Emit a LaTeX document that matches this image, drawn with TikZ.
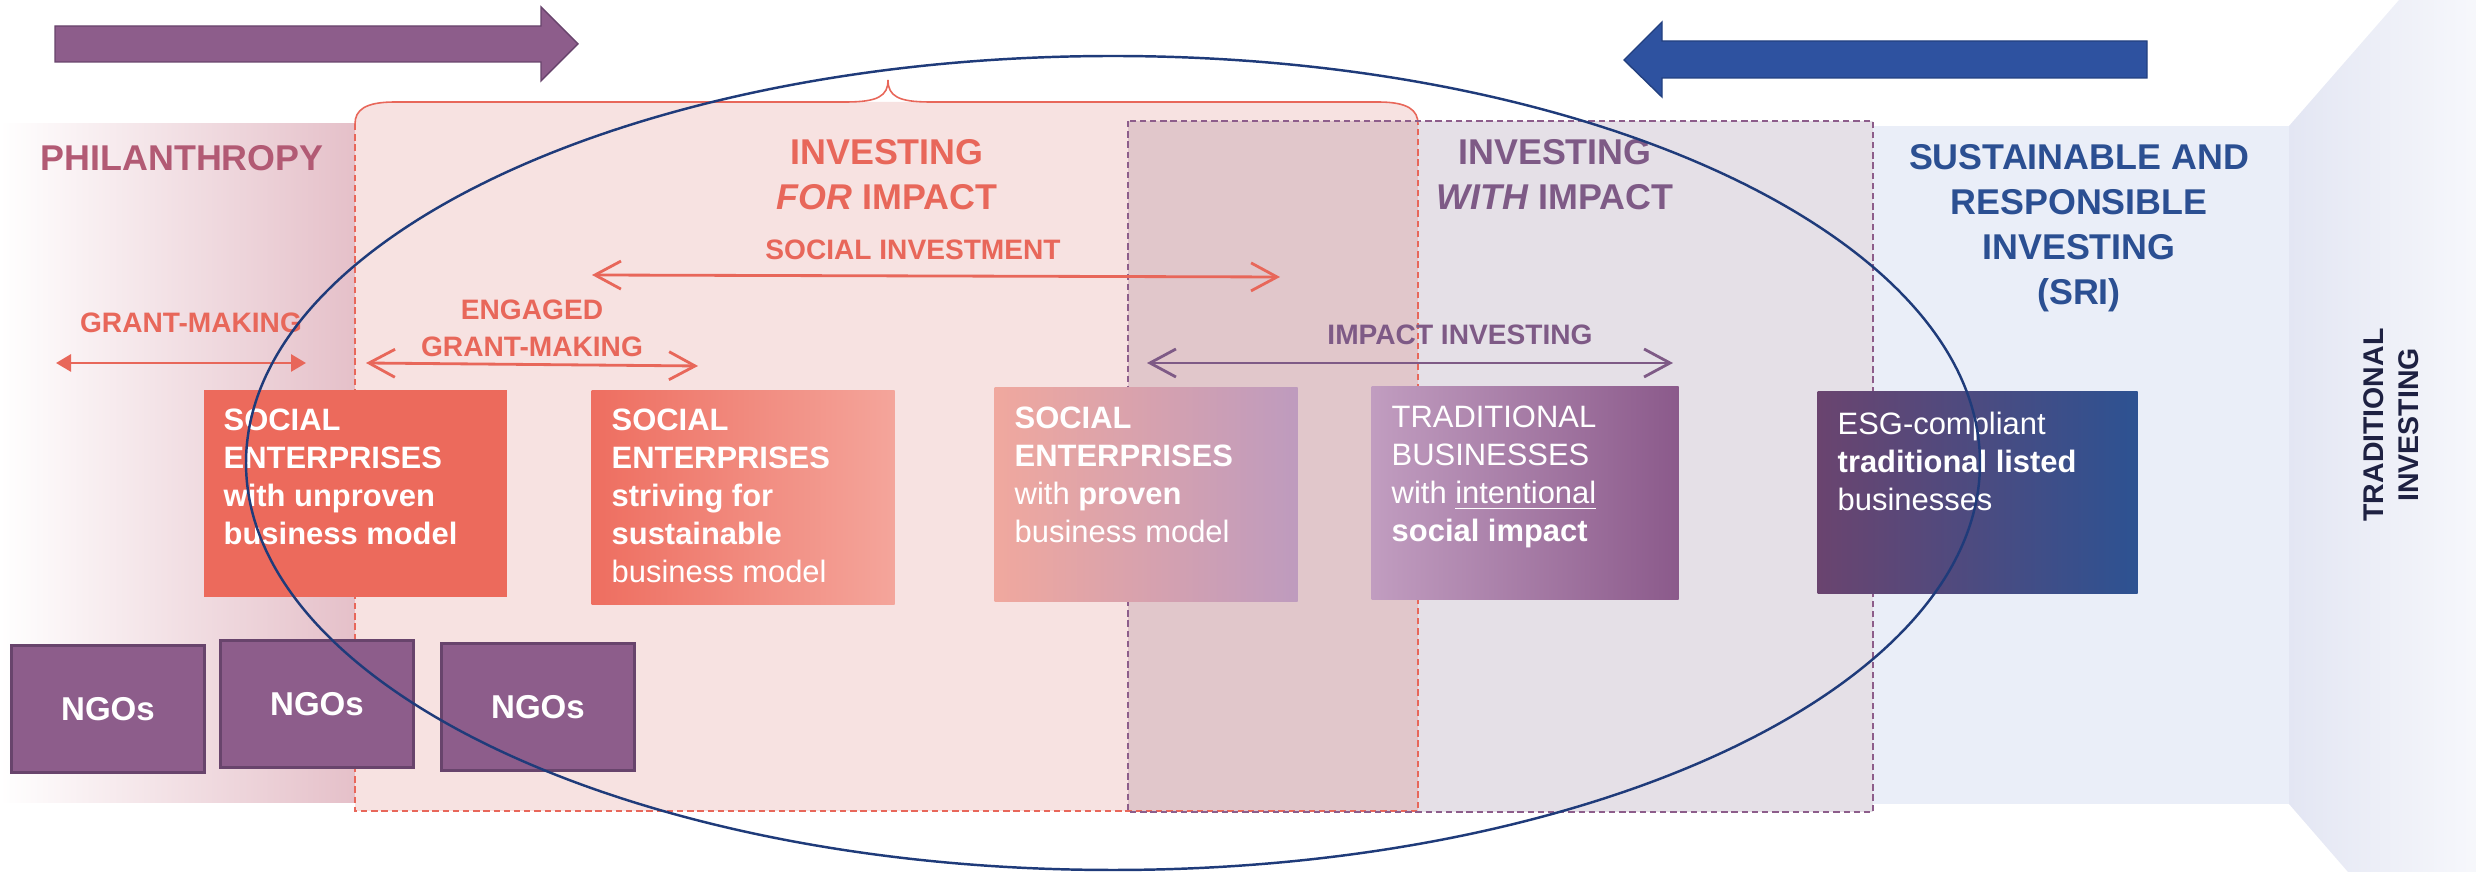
\documentclass[tikz,border=0pt]{standalone}
\usepackage{fontspec}
\setmainfont{Liberation Sans}
\usetikzlibrary{arrows.meta}
\definecolor{coral}{HTML}{EC6A5C}
\definecolor{coraltxt}{HTML}{E8675A}
\definecolor{rose}{HTML}{B25A74}
\definecolor{plum}{HTML}{8D5D8B}
\definecolor{plumdark}{HTML}{68446C}
\definecolor{plumtxt}{HTML}{7E5A86}
\definecolor{srinavy}{HTML}{2B4F92}
\definecolor{arrblue}{HTML}{2E52A0}
\definecolor{arrbluedark}{HTML}{23407F}
\definecolor{ringblue}{HTML}{1F3B7A}
\definecolor{philband}{HTML}{E5C0C9}
\definecolor{forfill}{HTML}{F7E2E1}
\definecolor{withfill}{HTML}{E5E0E7}
\definecolor{bothfill}{HTML}{E1C7CB}
\definecolor{srifill}{HTML}{EAEEF8}
\definecolor{tradfill}{HTML}{E3E6F3}
\definecolor{tradtxt}{HTML}{1E2142}
\definecolor{seA}{HTML}{EE6E60}
\definecolor{seB}{HTML}{F4A59B}
\definecolor{seC}{HTML}{F0A89E}
\definecolor{seD}{HTML}{BE9BBE}
\definecolor{tbA}{HTML}{C19DC0}
\definecolor{tbB}{HTML}{8B5A8B}
\definecolor{esgA}{HTML}{6A446F}
\definecolor{esgB}{HTML}{2D5292}
\begin{document}
\begin{tikzpicture}[x=0.1mm,y=-0.1mm,
    head/.style={font=\fontsize{10.2}{12.8}\selectfont\bfseries,align=center,inner sep=0},
    lbl/.style={font=\fontsize{8}{10.5}\selectfont\bfseries,align=center,inner sep=0},
    boxtxt/.style={font=\fontsize{8.8}{10.8}\selectfont,text=white,align=left,anchor=north west,inner sep=0},
    sebox/.style={rectangle,draw=none,anchor=north west,inner sep=0},
    ngo/.style={rectangle,fill=plum,draw=plumdark,line width=0.8pt,text=white,
      font=\fontsize{9.4}{11}\selectfont\bfseries,minimum width=19.3mm,minimum height=12.7mm},
    rangebarb/.style={line width=0.8pt,{Straight Barb[length=2.6mm,width=2.8mm]}-{Straight Barb[length=2.6mm,width=2.8mm]}},
    rangefill/.style={line width=0.8pt,{Triangle[length=1.5mm,width=1.7mm]}-{Triangle[length=1.5mm,width=1.7mm]}},
    reddash/.style={draw=coraltxt,line width=0.5pt,dash pattern=on 1.8pt off 1.1pt},
    purpledash/.style={draw=plum,line width=0.5pt,dash pattern=on 1.8pt off 1.1pt}]
  \useasboundingbox (0,0) rectangle (2476,872);

  % background bands
  \shade[left color=tradfill,right color=white!70!tradfill]
    (2289,126) -- (2399,0) -- (2476,0) -- (2476,872) -- (2348,872) -- (2289,804) -- cycle;
  \fill[srifill] (1873,126) rectangle (2289,804);
  \shade[left color=white,right color=philband] (0,124) rectangle (355,803);
  \fill[withfill] (1128,121) rectangle (1873,812);
  \fill[forfill] (355,124) .. controls (355,110) and (365,102) .. (395,102) -- (1378,102)
    .. controls (1408,102) and (1418,110) .. (1418,124) -- (1418,811) -- (355,811) -- cycle;
  \fill[bothfill] (1128,121) rectangle (1418,811);

  % region borders
  \draw[coraltxt,line width=0.45pt] (355,124) .. controls (355,110) and (365,102) .. (395,102)
    -- (846,102) .. controls (878,102) and (888,96) .. (888,80)
    .. controls (888,96) and (898,102) .. (930,102) -- (1378,102)
    .. controls (1408,102) and (1418,110) .. (1418,124);
  \draw[reddash] (355,124) -- (355,811) -- (1418,811) -- (1418,124);
  \draw[purpledash] (1128,121) rectangle (1873,812);

  % headings
  \node[head,text=rose,anchor=west] (phil) at (40,158) {PHILANTHROPY};
  \node[head,text=coraltxt] (ifor) at (887,175) {INVESTING\\\textit{FOR} IMPACT};
  \node[head,text=plumtxt] (iwith) at (1555,175) {INVESTING\\\textit{WITH} IMPACT};
  \node[head,text=srinavy] (sri) at (2079,228) {SUSTAINABLE AND\\RESPONSIBLE\\INVESTING\\(SRI)};
  \node[font=\fontsize{8.1}{10}\selectfont\bfseries,text=tradtxt,align=center,rotate=90,inner sep=0]
    (trad) at (2391,425) {TRADITIONAL\\INVESTING};

  % ranges
  \node[lbl,text=coraltxt] (gmlbl) at (191,323) {GRANT-MAKING};
  \node[lbl,text=coraltxt] (eglbl) at (532,328) {ENGAGED\\GRANT-MAKING};
  \node[lbl,text=coraltxt] (silbl) at (913,250) {SOCIAL INVESTMENT};
  \node[lbl,text=plumtxt] (iilbl) at (1460,335) {IMPACT INVESTING};
  \coordinate (gm-a) at (56,363);
  \coordinate (gm-b) at (306,363);
  \coordinate (eg-a) at (366,363);
  \coordinate (eg-b) at (698,366);
  \coordinate (si-a) at (592,275);
  \coordinate (si-b) at (1280,277);
  \coordinate (ii-a) at (1147,363);
  \coordinate (ii-b) at (1673,363);
  \draw[rangefill,coraltxt] (gm-a) -- (gm-b);
  \draw[rangebarb,coraltxt] (eg-a) -- (eg-b);
  \draw[rangebarb,coraltxt] (si-a) -- (si-b);
  \draw[rangebarb,plumtxt] (ii-a) -- (ii-b);

  % organisation boxes
  \node[sebox,fill=coral,minimum width=30.3mm,minimum height=20.7mm] (se1) at (203,389) {};
  \node[sebox,left color=seA,right color=seB,minimum width=30.3mm,minimum height=21.4mm] (se2) at (591,390) {};
  \node[sebox,left color=seC,right color=seD,minimum width=30.3mm,minimum height=21.4mm] (se3) at (994,387) {};
  \node[sebox,left color=tbA,right color=tbB,minimum width=30.7mm,minimum height=21.3mm] (tb) at (1371,386) {};
  \node[sebox,left color=esgA,right color=esgB,minimum width=32mm,minimum height=20.2mm] (esg) at (1817,391) {};

  \node[boxtxt] (se1txt) at (223,408) {\textbf{SOCIAL}\\\textbf{ENTERPRISES}\\\textbf{with unproven}\\\textbf{business model}};
  \node[boxtxt] (se2txt) at (611,408) {\textbf{SOCIAL}\\\textbf{ENTERPRISES}\\\textbf{striving for}\\\textbf{sustainable}\\business model};
  \node[boxtxt] (se3txt) at (1014,406) {\textbf{SOCIAL}\\\textbf{ENTERPRISES}\\with \textbf{proven}\\business model};
  \node[boxtxt] (tbtxt) at (1391,405) {TRADITIONAL\\BUSINESSES\\with \underline{intentional}\\\textbf{social impact}};
  \node[boxtxt] (esgtxt) at (1837,411) {ESG-compliant\\\textbf{traditional listed}\\businesses};

  \node[ngo] (ngo1) at (108,709) {NGOs};
  \node[ngo] (ngo2) at (317,704) {NGOs};
  \node[ngo] (ngo3) at (538,707) {NGOs};

  % scope ring
  \draw[ringblue,line width=0.7pt] (1113,463) ellipse [x radius=86.7mm,y radius=40.7mm];

  % direction arrows
  \draw[fill=plum,draw=plumdark,line width=0.4pt]
    (55,26) -- (541,26) -- (541,7) -- (578,44) -- (541,81) -- (541,62) -- (55,62) -- cycle;
  \draw[fill=arrblue,draw=arrbluedark,line width=0.4pt]
    (2147,41) -- (1662,41) -- (1662,22) -- (1624,60) -- (1662,97) -- (1662,78) -- (2147,78) -- cycle;
\end{tikzpicture}
\end{document}
